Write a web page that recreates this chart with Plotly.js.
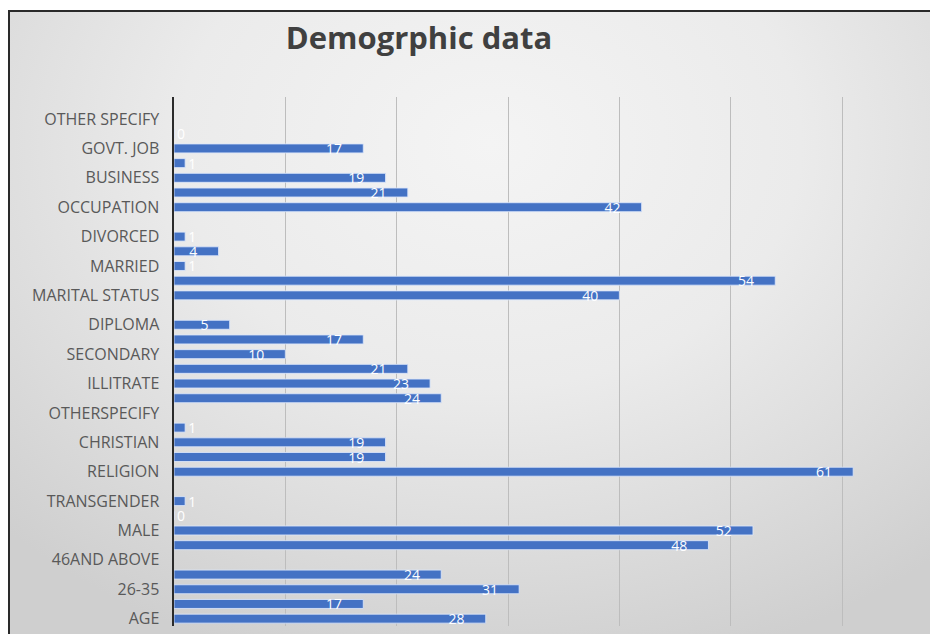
<!DOCTYPE html>
<html>
<head>
<meta charset="utf-8">
<script src="https://cdn.plot.ly/plotly-3.0.1.min.js"></script>
<style>
  html, body { margin: 0; padding: 0; background: #ffffff; overflow: hidden; }
  #wrap { position: relative; width: 930px; height: 634px; overflow: hidden; background: #ffffff; }
  #frame { position: absolute; left: 8px; top: 10px; width: 960px; height: 660px;
           border-left: 2px solid #2a2a2a; border-top: 2px solid #2a2a2a;
           background: radial-gradient(ellipse 72% 82% at 50% 20%, #f4f4f4 0%, #ebebeb 45%, #dcdcdc 75%, #cfcfcf 100%); }
  #chart { position: absolute; left: 0; top: 0; width: 930px; height: 634px; }
</style>
</head>
<body>
<div id="wrap">
  <div id="frame"></div>
  <div id="chart"></div>
</div>
<script>
// Categories from bottom to top (rows without a visible label carry guessed names)
const categories = [
  "AGE", "18-25", "26-35", "36-45", "46AND ABOVE",
  "GENDER", "MALE", "FEMALE", "TRANSGENDER", "(blank)",
  "RELIGION", "HINDU", "CHRISTIAN", "MUSLIM", "OTHERSPECIFY",
  "EDUCATION", "ILLITRATE", "PRIMARY", "SECONDARY", "HIGHER SECONDARY",
  "DIPLOMA", "GRADUATE", "MARITAL STATUS", "UNMARRIED", "MARRIED",
  "WIDOW", "DIVORCED", "(blank 2)", "OCCUPATION", "AGRICULTURE",
  "BUSINESS", "PRIVATE JOB", "GOVT. JOB", "HOUSEWIFE", "OTHER SPECIFY"
];
const values = [
  28, 17, 31, 24, null,
  48, 52, 0, 1, null,
  61, 19, 19, 1, null,
  24, 23, 21, 10, 17,
  5, null, 40, 54, 1,
  4, 1, null, 42, 21,
  19, 1, 17, 0, null
];
// Tick labels that are shown on the axis
const shownLabels = [
  "AGE", "26-35", "46AND ABOVE", "MALE", "TRANSGENDER", "RELIGION",
  "CHRISTIAN", "OTHERSPECIFY", "ILLITRATE", "SECONDARY", "DIPLOMA",
  "MARITAL STATUS", "MARRIED", "DIVORCED", "OCCUPATION", "BUSINESS",
  "GOVT. JOB", "OTHER SPECIFY"
];
const chartTitle = "Demogrphic data";

const pad = "\u00a0\u00a0\u00a0\u00a0\u00a0";
const small = v => v !== null && v < 3;
const labels = values.map(v => (v === null ? "" : (small(v) ? String(v) : String(v) + pad)));
const positions = values.map(v => (small(v) ? "outside" : "inside"));

const labelFont = { family: "'Open Sans', Lato, sans-serif", size: 14, color: "#ffffff" };

const trace = {
  type: "bar",
  orientation: "h",
  y: categories,
  x: values,
  text: labels,
  textposition: positions,
  insidetextanchor: "end",
  textangle: 0,
  constraintext: "none",
  cliponaxis: false,
  insidetextfont: labelFont,
  outsidetextfont: labelFont,
  marker: { color: "#4472C4", line: { color: "rgba(220,230,250,0.85)", width: 1 } },
  hoverinfo: "x+y"
};

const layout = {
  width: 930,
  height: 634,
  paper_bgcolor: "rgba(0,0,0,0)",
  plot_bgcolor: "rgba(0,0,0,0)",
  margin: { l: 174, r: 0, t: 97, b: 8 },
  showlegend: false,
  bargap: 0.39,
  title: {
    text: "<b>" + chartTitle + "</b>",
    font: { family: "'Open Sans', Lato, sans-serif", size: 31, color: "#404040" },
    x: 0.4505, xanchor: "center", xref: "container",
    y: 0.94, yanchor: "middle", yref: "container"
  },
  xaxis: {
    range: [0, 67.9],
    dtick: 10,
    showgrid: true,
    gridcolor: "#bdbdbd",
    gridwidth: 1,
    zeroline: false,
    showticklabels: false,
    showline: false,
    fixedrange: true
  },
  yaxis: {
    type: "category",
    categoryorder: "array",
    categoryarray: categories,
    range: [-0.5, 35.5],
    tickvals: shownLabels,
    ticktext: shownLabels,
    ticks: "outside",
    ticklen: 9,
    tickcolor: "rgba(0,0,0,0)",
    tickfont: { family: "'Open Sans', Lato, sans-serif", size: 16, color: "#595959" },
    showgrid: false,
    zeroline: false,
    showline: true,
    linecolor: "#2b2b2b",
    linewidth: 2.5,
    fixedrange: true
  }
};

Plotly.newPlot("chart", [trace], layout, { displayModeBar: false, staticPlot: true });
</script>
</body>
</html>
